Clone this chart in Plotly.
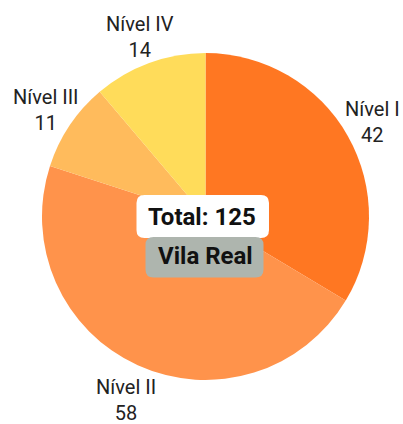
import math
import plotly.graph_objects as go

labels = ["Nível I", "Nível II", "Nível III", "Nível IV"]
values = [42, 58, 11, 14]
colors = ["#FF7722", "#FF934B", "#FFBB5C", "#FFDC5A"]
total_label = "Total: " + str(sum(values))
region = "Vila Real"

W, H = 403, 424
CX, CY, R = 205.5, 216.5, 163.5
LABEL_R = R + 28

def px(x, y):
    return x / W, 1 - y / H

def rrect(x0, y0, x1, y1, r):
    def P(x, y):
        a, b = px(x, y)
        return f"{a:.5f},{b:.5f}"
    d = f"M {P(x0 + r, y0)} L {P(x1 - r, y0)} Q {P(x1, y0)} {P(x1, y0 + r)} "
    d += f"L {P(x1, y1 - r)} Q {P(x1, y1)} {P(x1 - r, y1)} "
    d += f"L {P(x0 + r, y1)} Q {P(x0, y1)} {P(x0, y1 - r)} "
    d += f"L {P(x0, y0 + r)} Q {P(x0, y0)} {P(x0 + r, y0)} Z"
    return d

x0d, y1d = px(CX - R, CY + R)
x1d, y0d = px(CX + R, CY - R)
fig = go.Figure(go.Pie(
    labels=labels,
    values=values,
    marker=dict(colors=colors, line=dict(width=0)),
    sort=False,
    direction="clockwise",
    rotation=0,
    textinfo="none",
    hole=0,
    showlegend=False,
    domain=dict(x=[x0d, x1d], y=[y1d, y0d]),
))

# outside labels positioned along each slice's mid angle
total = sum(values)
cum = 0
for lab, v in zip(labels, values):
    mid = (cum + v / 2) / total * 2 * math.pi
    cum += v
    lx = CX + LABEL_R * math.sin(mid)
    ly = CY - LABEL_R * math.cos(mid) + 10 * max(0.0, -math.cos(mid))
    ax, ay = px(lx, ly)
    fig.add_annotation(x=ax, y=ay, xref="paper", yref="paper",
                       text=f"{lab}<br>{v}", showarrow=False,
                       font=dict(family="Roboto", size=20, color="#222222"),
                       xanchor="center", yanchor="middle", align="center")

fig.add_shape(type="path", xref="paper", yref="paper",
              path=rrect(136.5, 195, 269, 238, 8),
              fillcolor="#FFFFFF", line=dict(width=0))
fig.add_shape(type="path", xref="paper", yref="paper",
              path=rrect(145.5, 237, 263.5, 277.5, 8),
              fillcolor="#AEB5AE", line=dict(width=0))

tx, ty = px(202, 217)
fig.add_annotation(x=tx, y=ty, xref="paper", yref="paper", text="<b>" + total_label + "</b>",
                   showarrow=False, font=dict(family="Roboto", size=24, color="#111111"),
                   xanchor="center", yanchor="middle")
vx, vy = px(205, 256)
fig.add_annotation(x=vx, y=vy, xref="paper", yref="paper", text="<b>" + region + "</b>",
                   showarrow=False, font=dict(family="Roboto", size=24, color="#111111"),
                   xanchor="center", yanchor="middle")

fig.update_layout(
    width=W, height=H,
    margin=dict(l=0, r=0, t=0, b=0),
    paper_bgcolor="white",
    plot_bgcolor="white",
)

fig.write_html("out.html",
               config={"displayModeBar": False},
               post_script="document.body.style.margin='0';document.body.style.overflow='hidden';")
